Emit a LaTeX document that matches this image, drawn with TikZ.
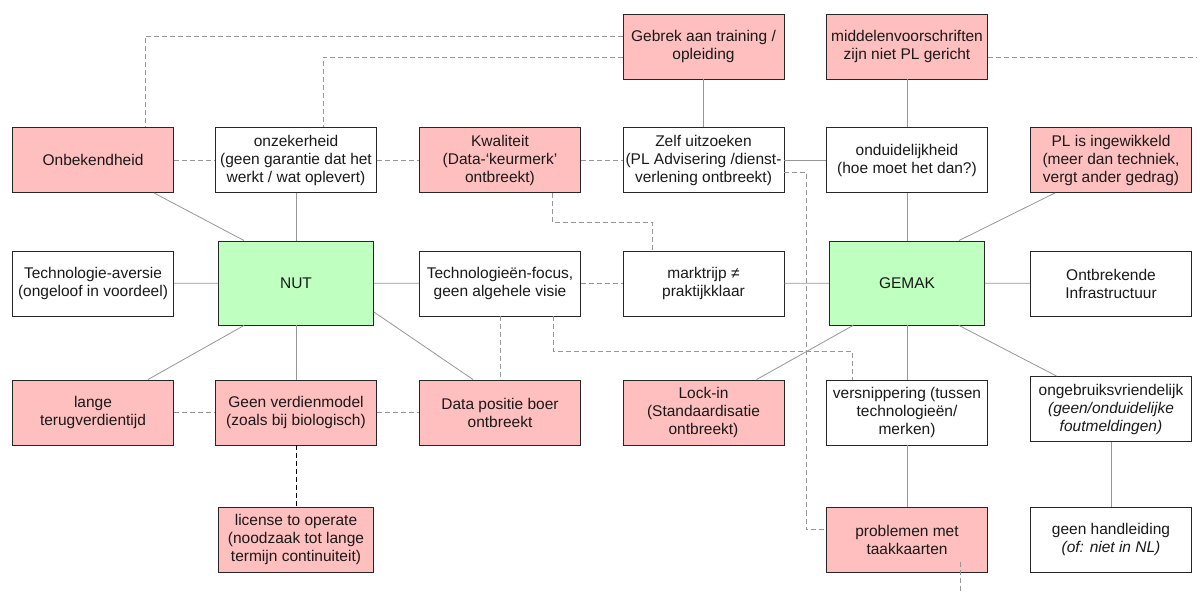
\documentclass[tikz,border=0pt]{standalone}
\usepackage{fontspec}
\setmainfont{Liberation Sans}
\definecolor{roze}{RGB}{255,191,191}
\definecolor{groen}{RGB}{191,255,191}
\definecolor{lijn}{RGB}{150,150,150}
\begin{document}
\begin{tikzpicture}[x=1pt,y=-1pt,
        blok/.style={draw=black!85,line width=0.9pt,minimum width=161pt,minimum height=65pt,
            align=center,inner sep=1pt,font=\fontsize{15.5}{18}\selectfont,text=black!90},
        rood/.style={blok,fill=roze},
        kern/.style={blok,fill=groen,minimum width=155pt,minimum height=84pt},
        verband/.style={lijn,line width=0.8pt},
        zwak/.style={lijn,line width=0.8pt,dash pattern=on 5pt off 3pt}]
    \useasboundingbox (0,0) rectangle (1200,593);

    % Bovenste rij
    \node[rood] (gebrek) at (703.5,46.5) {Gebrek aan training /\\opleiding};
    \node[rood] (middel) at (907,46.5) {middelenvoorschriften\\zijn niet PL gericht};

    % Tweede rij
    \node[rood] (onbek) at (93,160) {Onbekendheid};
    \node[blok] (onzek) at (296,160) {onzekerheid\\(geen garantie dat het\\werkt / wat oplevert)};
    \node[rood] (kwal) at (500,160) {Kwaliteit\\(Data-‘keurmerk’\\ontbreekt)};
    \node[blok] (zelf) at (703.5,160) {Zelf uitzoeken\\(PL Advisering /dienst-\\verlening ontbreekt)};
    \node[blok] (ondui) at (907,160) {onduidelijkheid\\(hoe moet het dan?)};
    \node[rood] (ingew) at (1111,160) {PL is ingewikkeld\\(meer dan techniek,\\vergt ander gedrag)};

    % Middelste rij
    \node[blok] (avers) at (93,283.5) {Technologie-aversie\\(ongeloof in voordeel)};
    \node[kern] (nut) at (296,283) {NUT};
    \node[blok] (focus) at (500,283.5) {Technologieën-focus,\\geen algehele visie};
    \node[blok] (markt) at (703.5,283.5) {marktrijp ≠\\praktijkklaar};
    \node[kern] (gemak) at (907,283) {GEMAK};
    \node[blok] (infra) at (1111,283.5) {Ontbrekende\\Infrastructuur};

    % Vierde rij
    \node[rood] (lange) at (93,412.5) {lange\\terugverdientijd};
    \node[rood] (verdien) at (296,412.5) {Geen verdienmodel\\(zoals bij biologisch)};
    \node[rood] (data) at (500,412.5) {Data positie boer\\ontbreekt};
    \node[rood] (lock) at (703.5,412.5) {Lock-in\\(Standaardisatie\\ontbreekt)};
    \node[blok] (versn) at (907,412.5) {versnippering (tussen\\technologieën/\\merken)};
    \node[blok] (ongebr) at (1111,409) {ongebruiksvriendelijk\\\textit{(geen/onduidelijke}\\\textit{foutmeldingen)}};

    % Onderste rij
    \node[rood,minimum width=155pt] (licen) at (296,539.5) {license to operate\\(noodzaak tot lange\\termijn continuiteit)};
    \node[rood] (probl) at (907,539.5) {problemen met\\taakkaarten};
    \node[blok] (handl) at (1111,539.5) {geen handleiding\\\textit{(of: niet in NL)}};

    % Vaste verbanden
    \draw[verband] (gebrek) -- (zelf);
    \draw[verband] (middel) -- (ondui);
    \draw[verband] (zelf) -- (ondui);
    \draw[verband] ([xshift=-20pt]onbek.south east) -- ([xshift=26pt]nut.north west);
    \draw[verband] (onzek) -- (nut);
    \draw[verband] (avers) -- (nut);
    \draw[verband] (nut) -- (focus);
    \draw[verband] ([xshift=26pt]nut.south west) -- ([xshift=-26pt]lange.north east);
    \draw[verband] (nut) -- (verdien);
    \draw[verband] ([yshift=-29pt]nut.east) -- ([xshift=-27pt]data.north);
    \draw[verband] (ondui) -- (gemak);
    \draw[verband] (markt) -- (gemak);
    \draw[verband] (gemak) -- (infra);
    \draw[verband] ([xshift=-26pt]gemak.north east) -- ([xshift=-56pt]ingew.south);
    \draw[verband] ([xshift=24pt]gemak.south west) -- ([xshift=53pt]lock.north);
    \draw[verband] (gemak) -- (versn);
    \draw[verband] ([xshift=-26pt]gemak.south east) -- ([xshift=-54.5pt]ongebr.north);
    \draw[verband] (versn) -- (probl);
    \draw[verband] (ongebr.south -| 1111,0) -- (handl.north -| 1111,0);

    % Gestippelde verbanden
    \draw[zwak] (onbek) -- (onzek);
    \draw[zwak] (onzek) -- (kwal);
    \draw[zwak] (kwal) -- (zelf);
    \draw[zwak] (lange) -- (verdien);
    \draw[zwak] (verdien) -- (data);
    \draw[zwak] (focus) -- (markt);
    \draw[zwak] (focus) -- (data);
    \draw[zwak] ([yshift=10.5pt]gebrek.west) -| ([xshift=52pt]onbek.north);
    \draw[zwak] ([yshift=-10.5pt]gebrek.west) -| ([xshift=27pt]onzek.north);
    \coordinate (rand) at (1197,57);
    \draw[zwak] ([yshift=-10.5pt]middel.east) -- (rand);
    \draw[zwak] ([yshift=-12pt]zelf.east) -- ++(21.5,0) |- ([yshift=10.5pt]probl.west);
    \draw[zwak] ([xshift=52pt]kwal.south) -- ++(0,29) -| ([xshift=-51.5pt]markt.north);
    \draw[zwak] ([xshift=53pt]focus.south) -- ++(0,35) -| ([xshift=-54.5pt]versn.north);
    \coordinate (onder) at (960,593);
    \draw[zwak] ([xshift=53pt,yshift=-22pt]probl.center) -- (onder);
    \draw[black,line width=0.8pt,dash pattern=on 5pt off 3pt] (verdien) -- (licen);
\end{tikzpicture}
\end{document}
